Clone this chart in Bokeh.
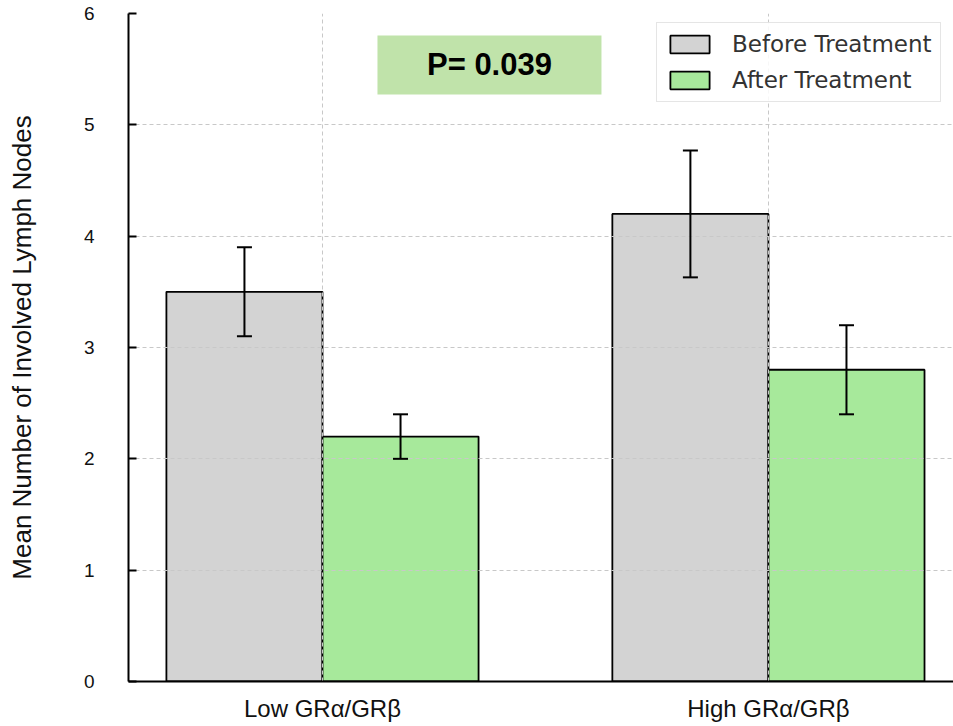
from bokeh.plotting import figure
from bokeh.models import (ColumnDataSource, Range1d, FixedTicker, Whisker, TeeHead,
                          BoxAnnotation, Label, Legend, LegendItem)
from bokeh.embed import file_html
from bokeh.resources import INLINE

# ---- data ----
categories = ["Low GRα/GRβ", "High GRα/GRβ"]
series_names = ["Before Treatment", "After Treatment"]
before_mean = [3.5, 4.2]
before_err = [0.4, 0.57]
after_mean = [2.2, 2.8]
after_err = [0.2, 0.4]
y_ticks = [0, 1, 2, 3, 4, 5, 6]
p_text = "P= 0.039"

bar_w = 0.35
idx = list(range(len(categories)))

p = figure(width=953, height=726, output_backend="svg", toolbar_location=None,
           x_range=Range1d(-0.435, 1.415), y_range=Range1d(0, 6),
           min_border_left=128, min_border_right=0, min_border_top=13, min_border_bottom=45)
p.outline_line_color = None
p.background_fill_color = "white"

src_b = ColumnDataSource(dict(x=[i - bar_w / 2 for i in idx], top=before_mean,
                              upper=[m + e for m, e in zip(before_mean, before_err)],
                              lower=[m - e for m, e in zip(before_mean, before_err)]))
src_a = ColumnDataSource(dict(x=[i + bar_w / 2 for i in idx], top=after_mean,
                              upper=[m + e for m, e in zip(after_mean, after_err)],
                              lower=[m - e for m, e in zip(after_mean, after_err)]))

rb = p.vbar(x="x", top="top", width=bar_w, source=src_b, fill_color="#d3d3d3",
            line_color="black", line_width=1.8, level="image")
ra = p.vbar(x="x", top="top", width=bar_w, source=src_a, fill_color="#a7e99b",
            line_color="black", line_width=1.8, level="image")

for s in (src_b, src_a):
    w = Whisker(source=s, base="x", upper="upper", lower="lower",
                line_color="black", line_width=2, level="overlay",
                upper_head=TeeHead(size=15, line_width=2, line_color="black"),
                lower_head=TeeHead(size=15, line_width=2, line_color="black"))
    p.add_layout(w)

# grid
p.xgrid.ticker = FixedTicker(ticks=idx)
p.ygrid.ticker = FixedTicker(ticks=y_ticks)
for g in (p.xgrid, p.ygrid):
    g.grid_line_color = "#c8c8c8"
    g.grid_line_dash = "4 3"
    g.grid_line_width = 1

# axes
p.xaxis.ticker = FixedTicker(ticks=idx)
p.xaxis.major_label_overrides = {i: c for i, c in zip(idx, categories)}
p.xaxis.major_tick_in = 0
p.xaxis.major_tick_out = 0
p.xaxis.minor_tick_line_color = None
p.xaxis.major_label_text_font = "Liberation Sans"
p.xaxis.major_label_text_font_size = "24px"
p.xaxis.major_label_text_color = "#111111"
p.xaxis.major_label_standoff = 13

p.yaxis.ticker = FixedTicker(ticks=y_ticks)
p.yaxis.major_tick_in = 8
p.yaxis.major_tick_out = 0
p.yaxis.major_tick_line_width = 2
p.yaxis.minor_tick_line_color = None
p.yaxis.major_label_text_font = "Liberation Sans"
p.yaxis.major_label_text_font_size = "19px"
p.yaxis.major_label_text_color = "#111111"
p.yaxis.major_label_standoff = 34
p.yaxis.axis_label = "Mean Number of Involved Lymph Nodes"
p.yaxis.axis_label_text_font = "Liberation Sans"
p.yaxis.axis_label_text_font_size = "26px"
p.yaxis.axis_label_text_font_style = "normal"
p.yaxis.axis_label_text_color = "#111111"
p.yaxis.axis_label_standoff = 44

for ax in (p.xaxis, p.yaxis):
    ax.axis_line_color = "black"
    ax.axis_line_width = 2
    ax.major_tick_line_color = "black"

# P-value box
box = BoxAnnotation(left=0.1233, right=0.6256, bottom=5.273, top=5.802,
                    fill_color="#c0e3aa", fill_alpha=1.0, line_color=None, level="overlay")
p.add_layout(box)
lab = Label(x=(0.1233 + 0.6256) / 2, y=(5.273 + 5.802) / 2, text=p_text,
            text_align="center", text_baseline="middle", text_font="Liberation Sans",
            text_font_style="bold", text_font_size="31px", text_color="black", level="overlay")
p.add_layout(lab)

legend = Legend(items=[LegendItem(label=series_names[0], renderers=[rb]),
                       LegendItem(label=series_names[1], renderers=[ra])],
                location=(528, 579))
legend.label_text_font = "DejaVu Sans"
legend.label_text_font_size = "23px"
legend.label_text_color = "#333333"
legend.glyph_width = 49
legend.glyph_height = 22
legend.label_height = 22
legend.label_standoff = 18
legend.spacing = 10
legend.padding = 8
legend.margin = 0
legend.border_line_color = "#cccccc"
legend.border_line_width = 1
legend.background_fill_alpha = 0.85
p.add_layout(legend)

open("out.html", "w").write(file_html(p, INLINE))
